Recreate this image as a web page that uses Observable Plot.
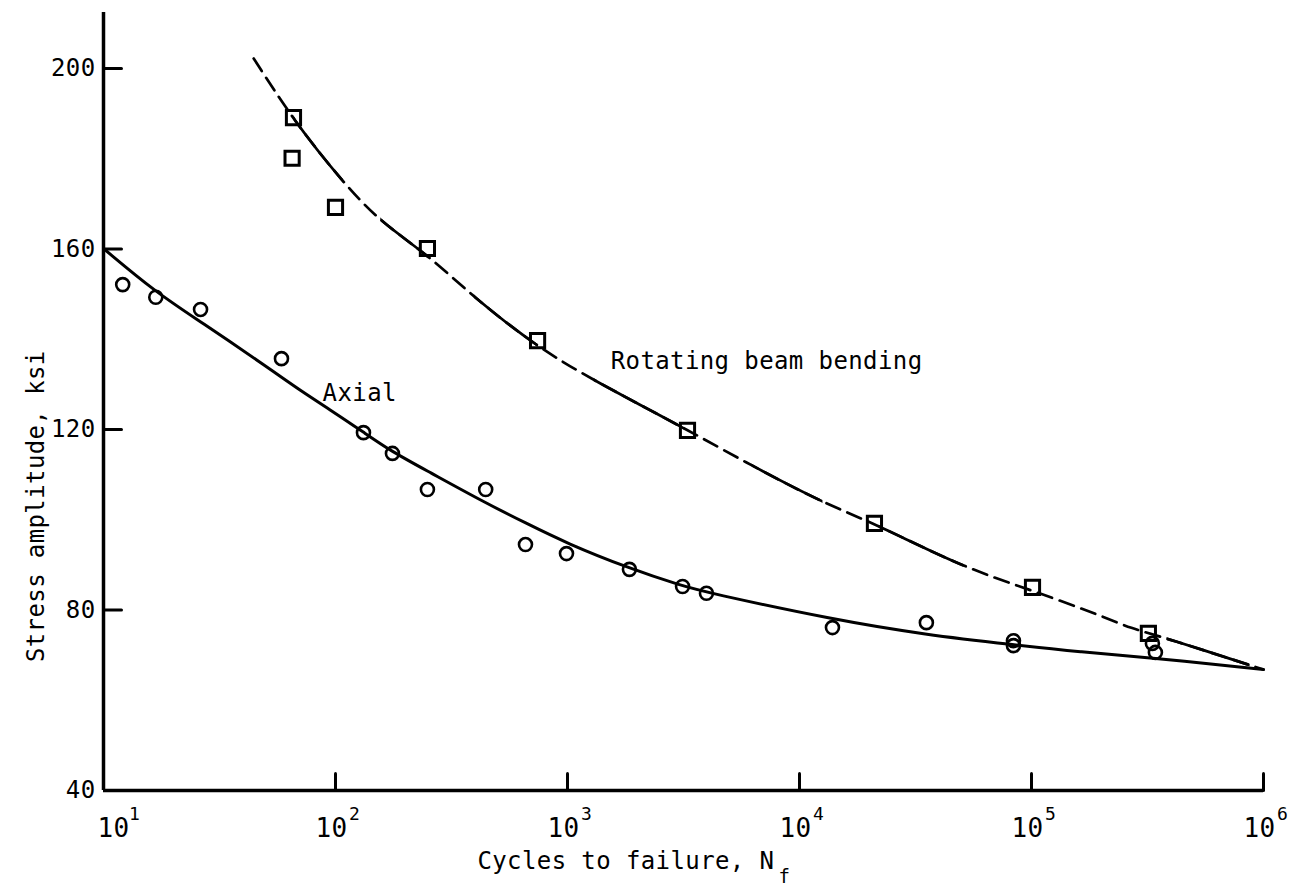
<!DOCTYPE html>
<html>
<head>
<meta charset="utf-8">
<script src="https://cdn.jsdelivr.net/npm/d3@7"></script>
<script src="https://cdn.jsdelivr.net/npm/@observablehq/plot@0.6"></script>
<style>
  html, body { margin: 0; padding: 0; background: #fff; overflow: hidden; }
  #chart svg { display: block; }
</style>
</head>
<body>
<div id="chart"></div>
<script>
// ---- Data ----
// Axial test points (circles): cycles to failure, stress amplitude (ksi)
const axialN = [12.1, 16.8, 26.2, 58.5, 132, 176, 249, 444, 659, 990, 1849, 3133, 3972, 13870, 35230, 83600, 83600, 332000, 342000];
const axialS = [152.1, 149.3, 146.6, 135.7, 119.3, 114.7, 106.7, 106.7, 94.5, 92.5, 89.0, 85.2, 83.7, 76.1, 77.2, 73.2, 72.1, 72.6, 70.6];

// Rotating beam bending test points (squares)
const bendN = [65.9, 65, 100, 249, 743, 3290, 21040, 101000, 319000];
const bendS = [189.1, 180.1, 169.2, 160.1, 139.7, 119.8, 99.2, 85.0, 74.8];

// Fitted curves
const axialCurveN = [10, 16.8, 26.2, 50.9, 70.6, 100, 132, 176, 249, 444, 659, 990, 1849, 3133, 3972, 13870, 35230, 83600, 163000, 316000, 1000000];
const axialCurveS = [160.1, 150.4, 143.9, 133.8, 128.6, 123.6, 119.4, 115.0, 110.8, 103.7, 99.3, 94.8, 89.2, 85.3, 83.9, 77.9, 74.5, 72.3, 70.7, 69.5, 66.8];

const bendCurveN = [44.4, 65.9, 108, 156, 249, 394, 743, 1294, 3162, 6209, 12560, 21040, 50930, 100000, 212800, 261600, 385000, 1000000];
const bendCurveS = [202.2, 188.5, 174.7, 166.0, 158.8, 149.3, 138.2, 130.9, 120.4, 112.0, 103.8, 99.2, 89.4, 84.4, 78.2, 76.1, 73.7, 66.8];

// Stretches of the bending curve drawn solid (the rest is dashed)
const bendSolidSpans = [[65.9, 108], [156, 249], [394, 743], [1294, 3162], [6209, 12560], [21930, 50930], [382000, 871000]];

// Axes
const xTicks = [10, 100, 1000, 10000, 100000, 1000000];
const xExponents = ["1", "2", "3", "4", "5", "6"];
const yTicks = [40, 80, 120, 160, 200];

// Texts
const curveLabels = ["Axial", "Rotating beam bending"];
const curveLabelN = [88, 1535];
const curveLabelS = [126.4, 133.5];
const xTitle = "Cycles to failure, N";
const xTitleSub = "f";
const xTitleN = 409;
const yTitle = "Stress amplitude, ksi";
const yTitleS = 103;

// ---- Chart ----
const tickShape = { draw(context, l) { context.moveTo(0, 0); context.lineTo(0, -l); } };
const font = "'DejaVu Sans Mono', 'Liberation Mono', monospace";

const plot = Plot.plot({
  width: 1302,
  height: 888,
  marginLeft: 103,
  marginRight: 39,
  marginTop: 12,
  marginBottom: 98,
  style: `font-family:${font};font-size:24px;color:black;background:white;letter-spacing:0.4px;`,
  x: { type: "log", domain: [10, 1e6], axis: null },
  y: { domain: [40, 212.4] },
  marks: [
    // axis lines
    Plot.ruleX([10], { stroke: "black", strokeWidth: 3.5 }),
    Plot.ruleY([40], { stroke: "black", strokeWidth: 3.5 }),
    // inward ticks
    Plot.vector(xTicks.slice(1), { x: d => d, frameAnchor: "bottom", length: 17, anchor: "start", shape: tickShape, stroke: "black", strokeWidth: 3 }),
    Plot.vector(yTicks.slice(1), { y: d => d, frameAnchor: "left", rotate: 90, length: 18, anchor: "start", shape: tickShape, stroke: "black", strokeWidth: 3 }),
    // y tick labels
    Plot.axisY({ ticks: yTicks, tickSize: 0, tickPadding: 8, fontSize: 24, label: null, tickFormat: d => String(d) }),
    // x tick labels: 10 with superscript exponent
    Plot.text(xTicks.slice(0, 1), { x: d => d, text: () => "10", frameAnchor: "bottom", dy: 38, dx: 10, fontSize: 26, lineAnchor: "middle" }),
    Plot.text(xTicks.slice(1), { x: d => d, text: () => "10", frameAnchor: "bottom", dy: 38, dx: -4, fontSize: 26, lineAnchor: "middle" }),
    Plot.text(xTicks.slice(0, 1), { x: d => d, text: (d, i) => xExponents[i], frameAnchor: "bottom", dy: 24, dx: 31, fontSize: 18, lineAnchor: "middle" }),
    Plot.text(xTicks.slice(1), { x: d => d, text: (d, i) => xExponents[i + 1], frameAnchor: "bottom", dy: 24, dx: 19, fontSize: 18, lineAnchor: "middle" }),
    // axis titles
    Plot.text([xTitle], { x: () => xTitleN, text: d => d, frameAnchor: "bottom", dy: 78, textAnchor: "start", lineAnchor: "bottom", fontSize: 24 }),
    Plot.text([xTitleSub], { x: () => xTitleN, text: d => d, frameAnchor: "bottom", dy: 92, dx: 301, textAnchor: "start", lineAnchor: "bottom", fontSize: 19 }),
    Plot.text([yTitle], { y: () => yTitleS, text: d => d, frameAnchor: "left", dx: -60, rotate: -90, textAnchor: "middle", lineAnchor: "bottom", fontSize: 24 }),
    // curves
    Plot.line(axialCurveN, { x: d => d, y: (d, i) => axialCurveS[i], curve: "basis", stroke: "black", strokeWidth: 3 }),
    Plot.line(bendCurveN, { x: d => d, y: (d, i) => bendCurveS[i], curve: "basis", stroke: "black", strokeWidth: 2.7, strokeDasharray: "15,8" }),
    // data points
    Plot.dot(axialN, { x: d => d, y: (d, i) => axialS[i], r: 6.5, stroke: "black", strokeWidth: 2.6, fill: "none" }),
    Plot.dot(bendN, { x: d => d, y: (d, i) => bendS[i], symbol: "square", r: 8, stroke: "black", strokeWidth: 3, fill: "none" }),
    // curve labels
    Plot.text(curveLabels, { x: (d, i) => curveLabelN[i], y: (d, i) => curveLabelS[i], text: d => d, textAnchor: "start", lineAnchor: "bottom", fontSize: 24 })
  ]
});

document.getElementById("chart").append(plot);

// Overlay a solid copy of the bending curve, clipped to the stretches drawn solid in the reference
(function () {
  const NS = "http://www.w3.org/2000/svg";
  const lines = plot.querySelectorAll('g[aria-label="line"]');
  const g = lines[lines.length - 1];
  if (!g) return;
  const path = g.querySelector("path");
  if (!path) return;
  const xs = plot.scale("x");
  const defs = document.createElementNS(NS, "defs");
  const cp = document.createElementNS(NS, "clipPath");
  cp.setAttribute("id", "bend-solid-clip");
  cp.setAttribute("clipPathUnits", "userSpaceOnUse");
  for (const [a, b] of bendSolidSpans) {
    const x0 = xs.apply(a), x1 = xs.apply(b);
    const r = document.createElementNS(NS, "rect");
    r.setAttribute("x", x0);
    r.setAttribute("y", 0);
    r.setAttribute("width", x1 - x0);
    r.setAttribute("height", 888);
    cp.append(r);
  }
  defs.append(cp);
  plot.insertBefore(defs, plot.firstChild);
  const solid = path.cloneNode(true);
  solid.setAttribute("stroke-dasharray", "none");
  solid.setAttribute("clip-path", "url(#bend-solid-clip)");
  g.append(solid);
})();
</script>
</body>
</html>
